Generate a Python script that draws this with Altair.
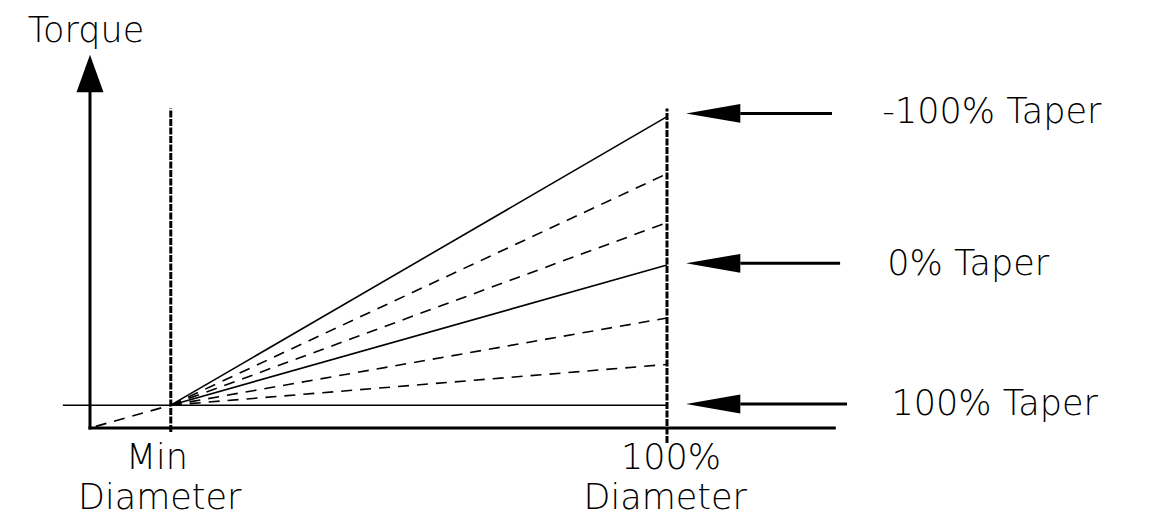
import altair as alt
import pandas as pd

# Units: x = diameter (% of full diameter), y = torque (% of 0%-taper torque at full diameter)
MIN_DIAM = 14
FULL_DIAM = 100
X_AXIS_END = 129
Y_AXIS_END = 207
Y_ARROW_TIP = 229
MIN_TORQUE = 14
HLINE_START = -4.7

fan_end_torque = [191, 156, 126, 100, 67.5, 39]
fan_style = ["solid", "dashed", "dashed", "solid", "dashed", "dashed"]

ext_start = 1  # dashed extension back towards origin

# dotted marker lines (x, top, bottom)
marker_x = [MIN_DIAM, FULL_DIAM]
marker_top = [196, 196]
marker_bottom = [-2.5, -9.2]

# taper arrows (y level, tip x, base x, end x)
arrow_y = [193, 101, 14.7]
arrow_tip = [103.3, 103.3, 103.3]
arrow_base = [112.7, 112.7, 112.7]
arrow_end = [128.6, 130, 131.2]
ARROW_HALF = 5.8

labels = ["Torque", "Min", "Diameter", "100%", "Diameter",
          "-100% Taper", "0% Taper", "100% Taper"]
label_x = [-0.7, 11.6, 12.1, 100.7, 99.7, 156.3, 152.2, 156.8]
label_y = [236.8, -25.2, -49.7, -25.2, -49.7, 187.1, 93.9, 8]

xs = alt.Scale(domain=[-14.21, 182.84], nice=False, zero=False)
ys = alt.Scale(domain=[-54.6, 257.67], nice=False, zero=False)

def X(f="x"):
    return alt.X(f"{f}:Q", scale=xs, axis=None)

def Y(f="y"):
    return alt.Y(f"{f}:Q", scale=ys, axis=None)

# fan lines
rows = []
for i, (e, s) in enumerate(zip(fan_end_torque, fan_style)):
    rows.append({"id": i, "x": MIN_DIAM, "y": MIN_TORQUE, "style": s})
    rows.append({"id": i, "x": FULL_DIAM, "y": e, "style": s})
rows.append({"id": 99, "x": ext_start, "y": ext_start, "style": "dashed"})
rows.append({"id": 99, "x": MIN_DIAM, "y": MIN_TORQUE, "style": "dashed"})
fan = pd.DataFrame(rows)

solid = alt.Chart(fan[fan["style"] == "solid"]).mark_line(
    color="black", strokeWidth=1.6).encode(x=X(), y=Y(), detail="id:N")
dashed = alt.Chart(fan[fan["style"] == "dashed"]).mark_line(
    color="black", strokeWidth=1.6, strokeDash=[11, 8]).encode(x=X(), y=Y(), detail="id:N")

hline = alt.Chart(pd.DataFrame({"x": [HLINE_START], "x2": [FULL_DIAM], "y": [MIN_TORQUE]})).mark_rule(
    color="black", strokeWidth=1.6).encode(x=X(), x2="x2:Q", y=Y())

# axes
xaxis = alt.Chart(pd.DataFrame({"x": [0], "x2": [X_AXIS_END], "y": [0]})).mark_rule(
    color="black", strokeWidth=3, strokeCap="square").encode(x=X(), x2="x2:Q", y=Y())
yaxis = alt.Chart(pd.DataFrame({"x": [0], "y": [0], "y2": [Y_AXIS_END]})).mark_rule(
    color="black", strokeWidth=3, strokeCap="square").encode(x=X(), y=Y(), y2="y2:Q")
yhead = alt.Chart(pd.DataFrame({
    "y": [Y_AXIS_END - 1, Y_ARROW_TIP],
    "x": [-2.34, 0], "x2": [2.34, 0]})).mark_area(
    color="black", orient="horizontal").encode(y=Y(), x=X(), x2="x2:Q")

# dotted markers
markers = alt.Chart(pd.DataFrame({"x": marker_x, "y": marker_bottom, "y2": marker_top})).mark_rule(
    color="black", strokeWidth=3, strokeDash=[7, 1.5]).encode(x=X(), y=Y(), y2="y2:Q")

# taper arrows
shaft = alt.Chart(pd.DataFrame({"x": arrow_base, "x2": arrow_end, "y": arrow_y})).mark_rule(
    color="black", strokeWidth=3).encode(x=X(), x2="x2:Q", y=Y())
hrows = []
for i, (yv, t, b) in enumerate(zip(arrow_y, arrow_tip, arrow_base)):
    hrows.append({"id": i, "x": t, "y": yv, "y2": yv})
    hrows.append({"id": i, "x": b, "y": yv + ARROW_HALF, "y2": yv - ARROW_HALF})
heads = alt.Chart(pd.DataFrame(hrows)).mark_area(color="black").encode(
    x=X(), y=Y(), y2="y2:Q", detail="id:N")

text = alt.Chart(pd.DataFrame({"label": labels, "x": label_x, "y": label_y})).mark_text(
    font="DejaVu Sans", fontSize=35, fontWeight=200, color="black",
    align="center", baseline="alphabetic"
).encode(x=X(), y=Y(), text="label:N")

chart = alt.layer(hline, solid, dashed, markers, xaxis, yaxis, yhead, shaft, heads, text).properties(
    width=1137, height=509, padding=0, autosize=alt.AutoSizeParams(type="none")
).configure_view(stroke=None)

chart.save("out.html", embed_options={"renderer": "svg", "actions": False})
